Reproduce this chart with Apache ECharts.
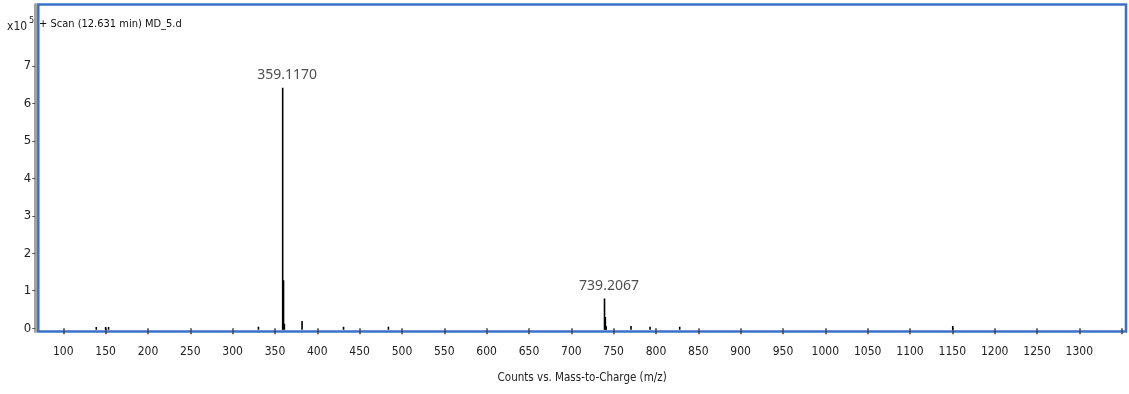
<!DOCTYPE html>
<html>
<head>
<meta charset="utf-8">
<script src="https://cdn.jsdelivr.net/npm/echarts@6/dist/echarts.min.js"></script>
<style>
html,body{margin:0;padding:0;background:#fff;}
#c{width:1129px;height:394px;}
</style>
</head>
<body>
<div id="c"></div>
<script>
// m/z (x) and intensity in units of 10^5 counts (y)
var peakMz        = [139, 150, 153.5, 330.5, 359.1170, 360.12, 361.12, 382, 431, 484, 739.2067, 740.21, 741.2, 770.5, 793, 828, 1150.5];
var peakIntensity = [0.03, 0.03, 0.03, 0.04, 6.42, 1.28, 0.12, 0.19, 0.04, 0.04, 0.79, 0.30, 0.05, 0.06, 0.04, 0.04, 0.06];
var labelMz        = [359.1170, 739.2067];
var labelIntensity = [6.42, 0.79];
var xTickValues  = [100,150,200,250,300,350,400,450,500,550,600,650,700,750,800,850,900,950,1000,1050,1100,1150,1200,1250,1300,1350];
var xLabelValues = [100,150,200,250,300,350,400,450,500,550,600,650,700,750,800,850,900,950,1000,1050,1100,1150,1200,1250,1300];
var yTickValues  = [0,1,2,3,4,5,6,7];
var titleText = '+ Scan (12.631 min) MD_5.d';
var scaleText = 'x10';
var scaleExp = '5';
var xAxisName = 'Counts vs. Mass-to-Charge (m/z)';

var peaks = peakMz.map(function(m, i){ return [m, peakIntensity[i]]; });
var labelled = labelMz.map(function(m, i){ return [m, labelIntensity[i]]; });

var narrow = '"Liberation Sans Narrow", "DejaVu Sans Condensed", "Liberation Sans", sans-serif';

var chart = echarts.init(document.getElementById('c'), null, {renderer:'canvas'});
chart.setOption({
  animation: false,
  backgroundColor: '#fff',
  title: [{
    text: titleText,
    left: 39, top: 19, padding: 0,
    textStyle: {fontFamily: narrow, fontSize: 11, fontWeight: 'normal', color: '#111'}
  }, {
    text: '{a|' + scaleText + '}{b|' + scaleExp + '}',
    left: 7, top: 15, padding: 0,
    textStyle: {
      fontWeight: 'normal',
      rich: {
        a: {fontFamily: narrow, fontSize: 12, fontWeight: 'normal', color: '#222', padding: [6,0,0,0]},
        b: {fontFamily: narrow, fontSize: 9, fontWeight: 'normal', color: '#222', padding: [0,0,6,2]}
      }
    }
  }],
  grid: {
    left: 38.3, right: 3, top: 4.5, bottom: 62.5,
    show: true, borderColor: '#3b71c9', borderWidth: 2.5, backgroundColor: 'transparent'
  },
  xAxis: {
    type: 'value',
    min: 70.5, max: 1355.1,
    offset: 4,
    splitLine: {show: false},
    axisLine: {show: true, lineStyle: {color: 'rgba(0,0,0,0)'}},
    axisTick: {show: true, length: 6, customValues: xTickValues, lineStyle: {color: '#444', width: 1.5}},
    axisLabel: {show: true, customValues: xLabelValues, margin: 10, fontFamily: narrow, fontSize: 12, color: '#222',
      formatter: function(v){ return String(v); }},
    name: xAxisName,
    nameLocation: 'middle',
    nameGap: 37,
    nameTextStyle: {fontFamily: narrow, fontSize: 11.5, color: '#222'}
  },
  yAxis: {
    type: 'value',
    min: -0.09, max: 8.64,
    offset: 3,
    splitLine: {show: false},
    axisLine: {show: true, lineStyle: {color: '#a3a3a3', width: 3}},
    axisTick: {show: true, length: 3, customValues: yTickValues, lineStyle: {color: '#555', width: 1}},
    axisLabel: {show: true, customValues: yTickValues, margin: 4, fontFamily: narrow, fontSize: 13, color: '#222',
      formatter: function(v){ return String(v); }}
  },
  series: [{
    type: 'custom',
    data: peaks,
    clip: true,
    renderItem: function(params, api){
      var x = api.value(0), y = api.value(1);
      var top = api.coord([x, y]);
      var base = api.coord([x, 0]);
      return {
        type: 'line',
        shape: {x1: top[0], y1: top[1], x2: base[0], y2: base[1] + 1.5},
        style: {stroke: '#000', lineWidth: 1.6}
      };
    }
  }, {
    type: 'scatter',
    data: labelled,
    symbol: 'circle',
    symbolSize: 2,
    itemStyle: {color: 'rgba(0,0,0,0)'},
    silent: true,
    labelLayout: {hideOverlap: false},
    label: {
      show: true,
      position: 'top',
      distance: 5,
      padding: [0, 0, 0, 9],
      formatter: function(p){ return p.value[0].toFixed(4); },
      fontFamily: '"Noto Sans", "Open Sans", sans-serif',
      fontSize: 14,
      color: '#222'
    },
    z: 5
  }]
});
</script>
</body>
</html>
